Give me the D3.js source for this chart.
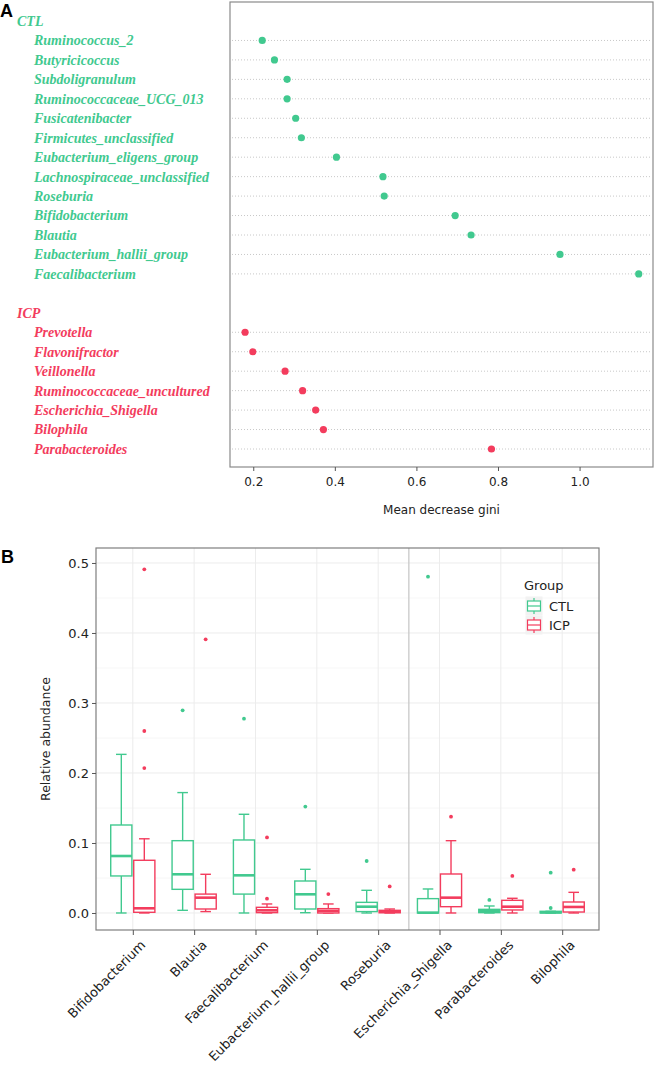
<!DOCTYPE html>
<html>
<head>
<meta charset="utf-8">
<script src="https://cdn.jsdelivr.net/npm/d3@7"></script>
<style>
  body { margin: 0; background: #fff; }
  svg { display: block; }
  .axis text { font-family: 'DejaVu Sans', Verdana, sans-serif; fill: #222; }
  .axis line { stroke: #555; }
  .axis path { display: none; }
</style>
</head>
<body>
<div id="chart"></div>
<script>
// Page size
var w = 655;
var h = 1068;

var green = '#41c98f';
var red = '#f33c5d';

// Panel A data: mean decrease gini per genus
var ctlSpecies = ['Ruminococcus_2', 'Butyricicoccus', 'Subdoligranulum', 'Ruminococcaceae_UCG_013',
  'Fusicatenibacter', 'Firmicutes_unclassified', 'Eubacterium_eligens_group',
  'Lachnospiraceae_unclassified', 'Roseburia', 'Bifidobacterium', 'Blautia',
  'Eubacterium_hallii_group', 'Faecalibacterium'];
var ctlGini = [0.222, 0.252, 0.283, 0.283, 0.304, 0.318, 0.404, 0.518, 0.521, 0.695, 0.734, 0.952, 1.145];

var icpSpecies = ['Prevotella', 'Flavonifractor', 'Veillonella', 'Ruminococcaceae_uncultured',
  'Escherichia_Shigella', 'Bilophila', 'Parabacteroides'];
var icpGini = [0.180, 0.199, 0.278, 0.321, 0.353, 0.372, 0.784];

var giniTicks = [0.2, 0.4, 0.6, 0.8, 1.0];

// Panel B data: relative abundance boxplots
var genera = ['Bifidobacterium', 'Blautia', 'Faecalibacterium', 'Eubacterium_hallii_group',
  'Roseburia', 'Escherichia_Shigella', 'Parabacteroides', 'Bilophila'];

var ctlLow = [0.0, 0.0038, 0.0, 0.0004, 0.0, 0.0, 0.0, 0.0];
var ctlQ1 = [0.0529, 0.0338, 0.027, 0.0057, 0.002, 0.0, 0.0005, 0.0];
var ctlMed = [0.0814, 0.0553, 0.0538, 0.0267, 0.009, 0.0005, 0.0029, 0.001];
var ctlQ3 = [0.1257, 0.1033, 0.1043, 0.0457, 0.0152, 0.0205, 0.0052, 0.0024];
var ctlHigh = [0.2266, 0.172, 0.141, 0.0624, 0.0324, 0.0343, 0.010, 0.0024];
var ctlOut = [[], [0.2895], [0.2776], [0.152], [0.0743], [0.4805], [0.0186], [0.0576, 0.0071]];

var icpLow = [0.0, 0.002, 0.0, 0.0, 0.0, 0.0, 0.0, 0.0];
var icpQ1 = [0.001, 0.0057, 0.0005, 0.0, 0.0003, 0.009, 0.0043, 0.0014];
var icpMed = [0.0067, 0.0219, 0.0038, 0.003, 0.0019, 0.0219, 0.009, 0.0086];
var icpQ3 = [0.0753, 0.027, 0.0081, 0.0062, 0.0038, 0.0557, 0.0181, 0.0157];
var icpHigh = [0.106, 0.0553, 0.0129, 0.0129, 0.0057, 0.1033, 0.021, 0.0295];
var icpOut = [[0.491, 0.26, 0.207], [0.391], [0.108, 0.0204], [0.027], [0.038], [0.1376], [0.0529], [0.0619]];

var abundanceTicks = [0, 0.1, 0.2, 0.3, 0.4, 0.5];
var minorTicks = [0.05, 0.15, 0.25, 0.35, 0.45];

var svg = d3.select('#chart')
  .append('svg')
  .attr('width', w)
  .attr('height', h);

// Panel letters
svg.append('text').text('A')
  .attr('x', 0).attr('y', 17)
  .attr('font-family', 'Liberation Sans, Arial, sans-serif')
  .attr('font-weight', 'bold').attr('font-size', 18);
svg.append('text').text('B')
  .attr('x', 1).attr('y', 563)
  .attr('font-family', 'Liberation Sans, Arial, sans-serif')
  .attr('font-weight', 'bold').attr('font-size', 18);

// ---------------- Panel A ----------------
var a = { left: 230, right: 653, top: 2, bottom: 467 };

var giniScale = d3.scaleLinear()
  .domain([0.143, 1.18])
  .range([a.left, a.right]);

// rows: 0 = CTL header, 1..13 CTL, 14 blank, 15 ICP header, 16..22 ICP
var rowScale = d3.scaleLinear()
  .domain([0, 22])
  .range([21, 449]);

var rowsA = [];
ctlSpecies.forEach((s, i) => rowsA.push({ name: s, value: ctlGini[i], row: i + 1, color: green }));
icpSpecies.forEach((s, i) => rowsA.push({ name: s, value: icpGini[i], row: i + 16, color: red }));

var gA = svg.append('g').attr('id', 'panel-a');

// dotted guide lines
gA.selectAll('line.guide')
  .data(rowsA)
  .enter()
  .append('line')
  .attr('class', 'guide')
  .attr('x1', a.left + 2)
  .attr('x2', a.right - 1)
  .attr('y1', d => rowScale(d.row))
  .attr('y2', d => rowScale(d.row))
  .attr('stroke', '#c8c8c8')
  .attr('stroke-width', 1)
  .attr('stroke-dasharray', '1,2');

gA.append('rect')
  .attr('x', a.left)
  .attr('y', a.top)
  .attr('width', a.right - a.left)
  .attr('height', a.bottom - a.top)
  .attr('fill', 'none')
  .attr('stroke', '#8a8a8a')
  .attr('stroke-width', 1.2);

gA.selectAll('circle')
  .data(rowsA)
  .enter()
  .append('circle')
  .attr('cx', d => giniScale(d.value))
  .attr('cy', d => rowScale(d.row))
  .attr('r', 3.6)
  .attr('fill', d => d.color);

// labels
var serif = 'Liberation Serif, Times New Roman, serif';
gA.selectAll('text.species')
  .data(rowsA)
  .enter()
  .append('text')
  .attr('class', 'species')
  .attr('x', 34)
  .attr('y', d => rowScale(d.row))
  .attr('dy', '0.35em')
  .attr('font-family', serif)
  .attr('font-style', 'italic')
  .attr('font-weight', 'bold')
  .attr('font-size', 14)
  .attr('fill', d => d.color)
  .text(d => d.name);

[['CTL', 0, green], ['ICP', 15, red]].forEach(hd => {
  gA.append('text')
    .attr('x', 17)
    .attr('y', rowScale(hd[1]))
    .attr('dy', '0.35em')
    .attr('font-family', serif)
    .attr('font-style', 'italic')
    .attr('font-weight', 'bold')
    .attr('font-size', 14)
    .attr('fill', hd[2])
    .text(hd[0]);
});

var giniAxis = d3.axisBottom(giniScale)
  .tickValues(giniTicks)
  .tickFormat(d3.format('.1f'))
  .tickSize(4)
  .tickPadding(6);

gA.append('g')
  .attr('class', 'axis')
  .attr('transform', `translate(0, ${a.bottom})`)
  .call(giniAxis)
  .selectAll('text')
  .attr('font-size', 12);

gA.append('text')
  .attr('x', (a.left + a.right) / 2)
  .attr('y', 514)
  .attr('text-anchor', 'middle')
  .attr('font-family', 'DejaVu Sans, Verdana, sans-serif')
  .attr('font-size', 12)
  .attr('fill', '#222')
  .text('Mean decrease gini');

// ---------------- Panel B ----------------
var b = { left: 96, right: 599, top: 548, bottom: 930 };

var xScale = d3.scalePoint()
  .domain(genera)
  .range([b.left, b.right])
  .padding(0.6);

var yScale = d3.scaleLinear()
  .domain([-0.0243, 0.5214])
  .range([b.bottom, b.top]);

var step = xScale.step();
var boxW = 0.345 * step;
var dodge = 0.1875 * step;

var gB = svg.append('g').attr('id', 'panel-b');

// grid
gB.selectAll('line.minor')
  .data(minorTicks)
  .enter()
  .append('line')
  .attr('x1', b.left).attr('x2', b.right)
  .attr('y1', d => yScale(d)).attr('y2', d => yScale(d))
  .attr('stroke', '#f4f4f4').attr('stroke-width', 0.8);

gB.selectAll('line.major')
  .data(abundanceTicks)
  .enter()
  .append('line')
  .attr('x1', b.left).attr('x2', b.right)
  .attr('y1', d => yScale(d)).attr('y2', d => yScale(d))
  .attr('stroke', '#ececec').attr('stroke-width', 1);

gB.selectAll('line.vgrid')
  .data(genera)
  .enter()
  .append('line')
  .attr('x1', d => xScale(d)).attr('x2', d => xScale(d))
  .attr('y1', b.top).attr('y2', b.bottom)
  .attr('stroke', '#ececec').attr('stroke-width', 1);

// separator between CTL-enriched and ICP-enriched genera
var sepX = (xScale(genera[4]) + xScale(genera[5])) / 2;
gB.append('line')
  .attr('x1', sepX).attr('x2', sepX)
  .attr('y1', b.top).attr('y2', b.bottom)
  .attr('stroke', '#c9c9c9').attr('stroke-width', 1.3);

var boxes = [];
genera.forEach((g, i) => {
  boxes.push({ genus: g, off: -dodge, color: green, low: ctlLow[i], q1: ctlQ1[i], med: ctlMed[i], q3: ctlQ3[i], high: ctlHigh[i], out: ctlOut[i] });
  boxes.push({ genus: g, off: dodge, color: red, low: icpLow[i], q1: icpQ1[i], med: icpMed[i], q3: icpQ3[i], high: icpHigh[i], out: icpOut[i] });
});

var boxG = gB.selectAll('g.box')
  .data(boxes)
  .enter()
  .append('g')
  .attr('class', 'box')
  .attr('transform', d => `translate(${xScale(d.genus) + d.off}, 0)`);

// whiskers
boxG.append('line')
  .attr('x1', 0).attr('x2', 0)
  .attr('y1', d => yScale(d.high)).attr('y2', d => yScale(d.q3))
  .attr('stroke', d => d.color).attr('stroke-width', 1.4);
boxG.append('line')
  .attr('x1', 0).attr('x2', 0)
  .attr('y1', d => yScale(d.q1)).attr('y2', d => yScale(d.low))
  .attr('stroke', d => d.color).attr('stroke-width', 1.4);
// whisker caps
boxG.append('line')
  .attr('x1', -boxW / 4).attr('x2', boxW / 4)
  .attr('y1', d => yScale(d.high)).attr('y2', d => yScale(d.high))
  .attr('stroke', d => d.color).attr('stroke-width', 1.4);
boxG.append('line')
  .attr('x1', -boxW / 4).attr('x2', boxW / 4)
  .attr('y1', d => yScale(d.low)).attr('y2', d => yScale(d.low))
  .attr('stroke', d => d.color).attr('stroke-width', 1.4);

boxG.append('rect')
  .attr('x', -boxW / 2)
  .attr('width', boxW)
  .attr('y', d => yScale(d.q3))
  .attr('height', d => Math.max(1, yScale(d.q1) - yScale(d.q3)))
  .attr('fill', '#fff')
  .attr('stroke', d => d.color)
  .attr('stroke-width', 1.4);

boxG.append('line')
  .attr('x1', -boxW / 2).attr('x2', boxW / 2)
  .attr('y1', d => yScale(d.med)).attr('y2', d => yScale(d.med))
  .attr('stroke', d => d.color).attr('stroke-width', 2.6);

boxG.selectAll('circle')
  .data(d => d.out.map(v => ({ v: v, color: d.color })))
  .enter()
  .append('circle')
  .attr('cx', 0)
  .attr('cy', d => yScale(d.v))
  .attr('r', 1.9)
  .attr('fill', d => d.color);

// panel border
gB.append('rect')
  .attr('x', b.left).attr('y', b.top)
  .attr('width', b.right - b.left).attr('height', b.bottom - b.top)
  .attr('fill', 'none')
  .attr('stroke', '#7f7f7f').attr('stroke-width', 1.2);

var yAxis = d3.axisLeft(yScale)
  .tickValues(abundanceTicks)
  .tickFormat(d3.format('.1f'))
  .tickSize(4)
  .tickPadding(3);

gB.append('g')
  .attr('class', 'axis')
  .attr('transform', `translate(${b.left}, 0)`)
  .call(yAxis)
  .selectAll('text')
  .attr('font-size', 13);

var xAxis = d3.axisBottom(xScale)
  .tickSize(5);

var xAxisG = gB.append('g')
  .attr('class', 'axis')
  .attr('transform', `translate(0, ${b.bottom})`)
  .call(xAxis);

xAxisG.selectAll('text')
  .attr('font-size', 13)
  .attr('text-anchor', 'end')
  .attr('transform', 'translate(6, 9) rotate(-45)')
  .attr('x', 0)
  .attr('y', 0)
  .attr('dy', '0.75em');

gB.append('text')
  .attr('transform', `translate(50, ${(b.top + b.bottom) / 2}) rotate(-90)`)
  .attr('text-anchor', 'middle')
  .attr('font-family', 'DejaVu Sans, Verdana, sans-serif')
  .attr('font-size', 12.5)
  .attr('fill', '#222')
  .text('Relative abundance');

// legend
var legend = gB.append('g').attr('transform', 'translate(524, 0)');
legend.append('text')
  .attr('x', 0).attr('y', 590)
  .attr('font-family', 'DejaVu Sans, Verdana, sans-serif')
  .attr('font-size', 13)
  .attr('fill', '#222')
  .text('Group');

var keys = [['CTL', green, 606], ['ICP', red, 625]];
keys.forEach(k => {
  var kg = legend.append('g').attr('transform', `translate(10, ${k[2]})`);
  kg.append('rect')
    .attr('x', -8.5).attr('y', -9.5).attr('width', 17).attr('height', 19)
    .attr('fill', '#f2f2f2');
  kg.append('line').attr('x1', 0).attr('x2', 0).attr('y1', -8).attr('y2', 8)
    .attr('stroke', k[1]).attr('stroke-width', 1.2);
  kg.append('rect')
    .attr('x', -6.5).attr('y', -5).attr('width', 13).attr('height', 10)
    .attr('fill', '#fff').attr('stroke', k[1]).attr('stroke-width', 1.2);
  kg.append('line').attr('x1', -6.5).attr('x2', 6.5).attr('y1', 0).attr('y2', 0)
    .attr('stroke', k[1]).attr('stroke-width', 1.2);
  legend.append('text')
    .attr('x', 25).attr('y', k[2])
    .attr('dy', '0.35em')
    .attr('font-family', 'DejaVu Sans, Verdana, sans-serif')
    .attr('font-size', 13)
    .attr('fill', '#222')
    .text(k[0]);
});
</script>
</body>
</html>
